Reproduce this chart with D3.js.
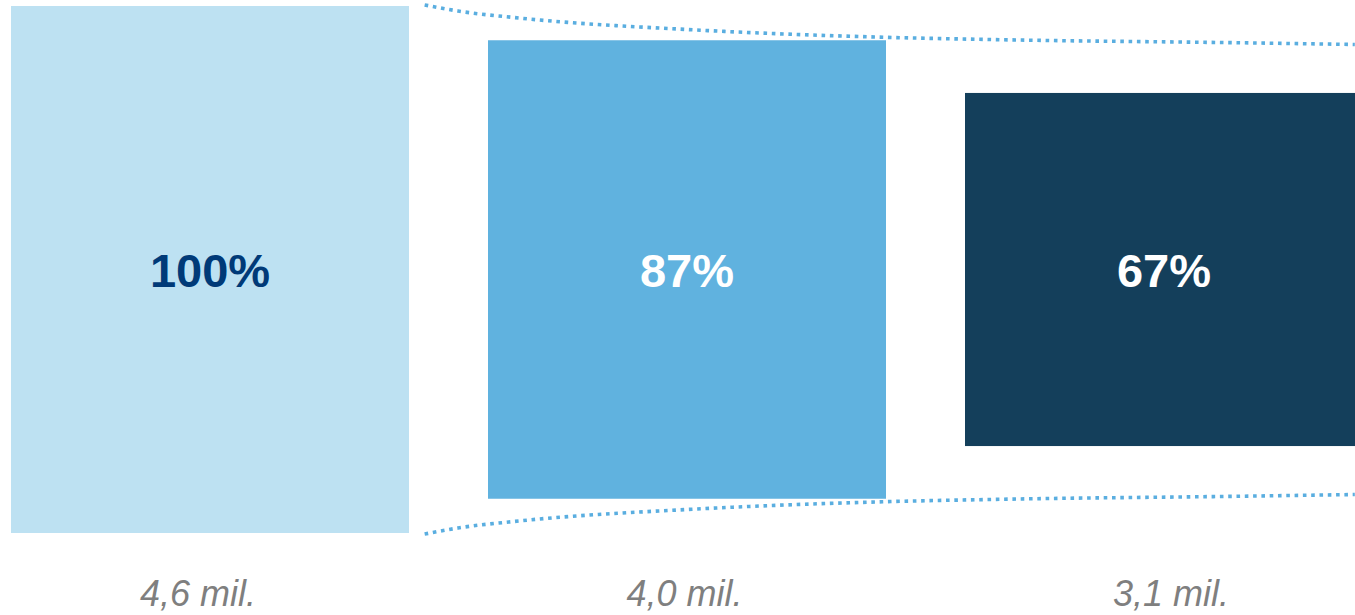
<!DOCTYPE html>
<html>
<head>
<meta charset="utf-8">
<script src="https://cdn.jsdelivr.net/npm/d3@7"></script>
<style>
  html, body { margin: 0; padding: 0; background: #ffffff; }
  svg { display: block; }
</style>
</head>
<body>
<svg id="chart" width="1355" height="615"></svg>
<script>
// ---- data ----
const categories = ["A", "B", "C"];
const percentValues = [100, 87, 67];
const percentLabels = ["100%", "87%", "67%"];
const countLabels = ["4,6 mil.", "4,0 mil.", "3,1 mil."];
// funnel guide curve: position in category steps (0 = centre of first bar) and percent half-height
const guidePos = [0.45, 0.52, 0.65, 1.03, 1.40, 1.66, 2.18, 2.40];
const guidePct = [100.4, 98.1, 95.4, 90.8, 88.2, 87.2, 86.0, 85.4];

// ---- styles ----
const barColors = ["#bde1f2", "#60b2df", "#143f5b"];
const pctColors = ["#003a78", "#ffffff", "#ffffff"];

const svg = d3.select("#chart");
const cy = 269.5;

const x = d3.scaleBand()
  .domain(categories)
  .range([11, 1363])
  .paddingInner(79 / 477)
  .paddingOuter(0);

// bottom label row uses its own point scale
const xLabel = d3.scalePoint()
  .domain(categories)
  .range([198, 1171]);

const half = d3.scaleLinear().domain([0, 100]).range([0, 263.5]);

const step = x.step();
const x0 = x(categories[0]) + x.bandwidth() / 2;
const gx = t => x0 + t * step;

// bars
svg.selectAll("rect.bar")
  .data(categories)
  .join("rect")
  .attr("class", "bar")
  .attr("x", d => x(d))
  .attr("y", (d, i) => cy - half(percentValues[i]))
  .attr("width", x.bandwidth())
  .attr("height", (d, i) => 2 * half(percentValues[i]))
  .attr("fill", (d, i) => barColors[i]);

// dotted guide curves
const guide = guidePos.map((p, i) => [p, guidePct[i]]);
const topLine = d3.line().x(d => gx(d[0])).y(d => cy - half(d[1])).curve(d3.curveMonotoneX);
const botLine = d3.line().x(d => gx(d[0])).y(d => cy + half(d[1])).curve(d3.curveMonotoneX);

[topLine, botLine].forEach(l => {
  svg.append("path")
    .attr("d", l(guide))
    .attr("fill", "none")
    .attr("stroke", "#5aaee0")
    .attr("stroke-width", 3.6)
    .attr("stroke-dasharray", "3.6 4.7");
});

// percent labels
svg.selectAll("text.pct")
  .data(categories)
  .join("text")
  .attr("class", "pct")
  .attr("x", d => x(d) + x.bandwidth() / 2)
  .attr("y", cy + 17)
  .attr("text-anchor", "middle")
  .attr("font-family", "Liberation Sans, Arial, sans-serif")
  .attr("font-weight", "bold")
  .attr("font-size", 47)
  .attr("fill", (d, i) => pctColors[i])
  .text((d, i) => percentLabels[i]);

// count labels
svg.selectAll("text.cnt")
  .data(categories)
  .join("text")
  .attr("class", "cnt")
  .attr("x", d => xLabel(d))
  .attr("y", 606)
  .attr("text-anchor", "middle")
  .attr("font-family", "Liberation Sans, Arial, sans-serif")
  .attr("font-style", "italic")
  .attr("font-size", 36)
  .attr("fill", "#7f7f7f")
  .text((d, i) => countLabels[i]);
</script>
</body>
</html>
